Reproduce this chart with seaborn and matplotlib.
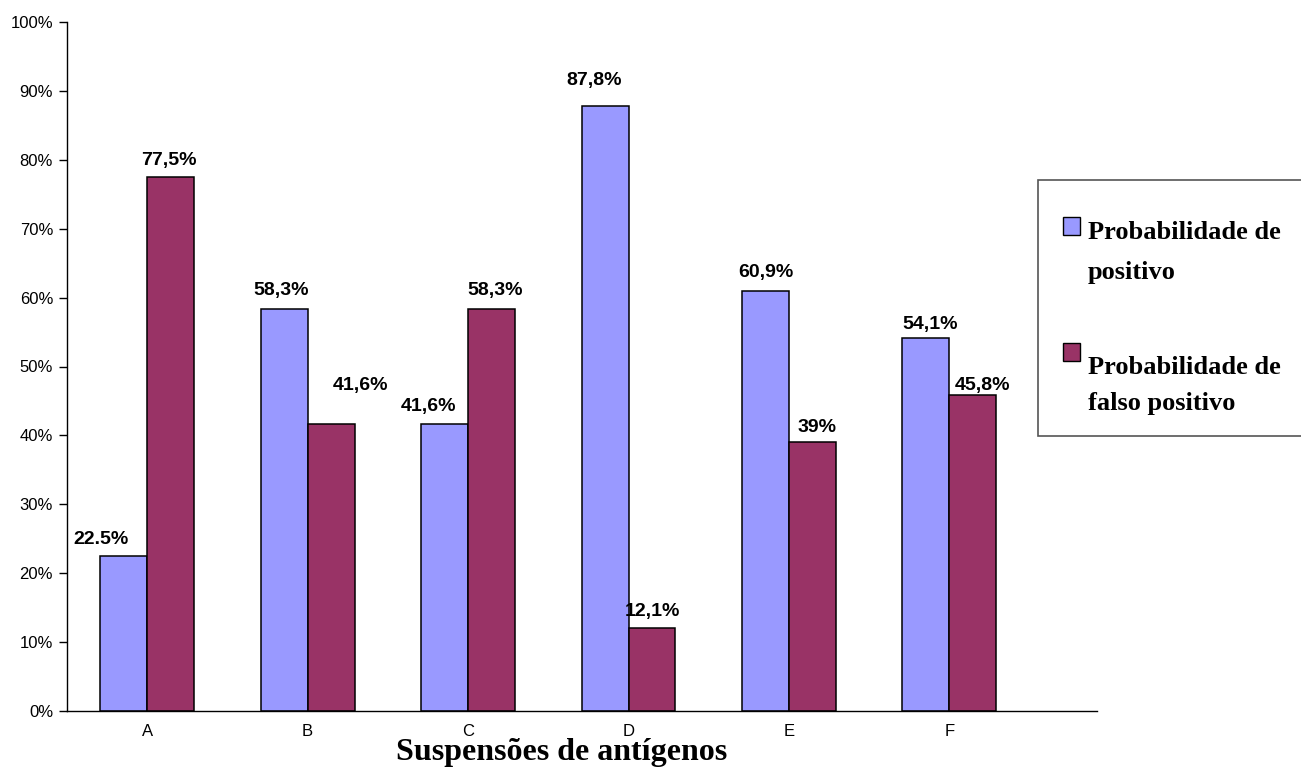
import matplotlib
matplotlib.use("Agg")
import matplotlib.pyplot as plt
from matplotlib.patches import Rectangle
import seaborn as sns
import pandas as pd

categories = ["A", "B", "C", "D", "E", "F"]
series_names = ["Probabilidade de\npositivo", "Probabilidade de\nfalso positivo"]
positivo = [22.5, 58.3, 41.6, 87.8, 60.9, 54.1]
falso_positivo = [77.5, 41.6, 58.3, 12.1, 39.0, 45.8]
labels_positivo = ["22.5%", "58,3%", "41,6%", "87,8%", "60,9%", "54,1%"]
labels_falso = ["77,5%", "41,6%", "58,3%", "12,1%", "39%", "45,8%"]
y_ticks = [0, 10, 20, 30, 40, 50, 60, 70, 80, 90, 100]
x_label = "Suspensões de antígenos"
colors = ["#9999FF", "#993366"]

# label nudges (pixels) relative to bar centre / top
nudge_pos = [(-23, 16), (-3, 19), (-16, 18), (-11, 26), (0, 19), (4, 14)]
nudge_fal = [(-2, 17), (29, 39), (4, 19), (0, 16), (5, 15), (10, 10)]

df = pd.DataFrame({
    "cat": categories * 2,
    "val": positivo + falso_positivo,
    "serie": [series_names[0]] * 6 + [series_names[1]] * 6,
})

sns.set_style("white")
plt.rcParams.update({"text.color": "black", "xtick.color": "black",
                     "ytick.color": "black", "axes.labelcolor": "black"})
W, H = 1301, 776
fig = plt.figure(figsize=(W / 100, H / 100), dpi=100)
ax = fig.add_axes([67 / W, 1 - 711 / H, (1097 - 67) / W, (711 - 22) / H])

sns.barplot(data=df, x="cat", y="val", hue="serie", order=categories,
            hue_order=series_names, palette=colors, width=0.585,
            edgecolor="black", linewidth=1.1, saturation=1, ax=ax, legend=False)

ax.set_xlim(-0.5, 5.92)
ax.set_ylim(0, 100)
ax.set_yticks(y_ticks)
ax.set_yticklabels([f"{t}%" for t in y_ticks])
ax.set_xlabel("")
ax.set_ylabel("")
for s in ["top", "right"]:
    ax.spines[s].set_visible(False)
for s in ["left", "bottom"]:
    ax.spines[s].set_color("black")
    ax.spines[s].set_linewidth(1.0)
ax.tick_params(axis="y", direction="out", length=6, width=1, color="black",
               labelcolor="black", labelsize=12, pad=4, left=True)
ax.tick_params(axis="x", length=0, labelsize=12, pad=9, labelcolor="black")
for t in ax.get_xticklabels() + ax.get_yticklabels():
    t.set_fontfamily(["Liberation Sans"])

label_font = dict(family=["Liberation Sans"], weight="bold", size=14, color="black")
containers = ax.containers
for cont, labs, nudges in [(containers[0], labels_positivo, nudge_pos),
                           (containers[1], labels_falso, nudge_fal)]:
    for bar, lab, (dx, dy) in zip(cont, labs, nudges):
        xc = bar.get_x() + bar.get_width() / 2
        yt = bar.get_height()
        ax.annotate(lab, (xc, yt), xytext=(dx, dy), textcoords="offset pixels",
                    ha="center", va="center", **label_font)

fig.text(562 / W, 1 - 760 / H, x_label, ha="center", va="baseline",
         family=["Liberation Serif"], weight="bold", size=23, color="black")

# legend box
fig.patches.append(Rectangle((1038 / W, 1 - 436 / H), 0.3, (436 - 180) / H,
                             transform=fig.transFigure, facecolor="white",
                             edgecolor="#555555", linewidth=1.2, zorder=0))
square_tops = [217, 343]
first_baselines = [239, 374]
line_steps = [40, 36]
for name, col, sq, bl, step in zip(series_names, colors, square_tops,
                                   first_baselines, line_steps):
    fig.patches.append(Rectangle((1063 / W, 1 - (sq + 18) / H), 17 / W, 18 / H,
                                 transform=fig.transFigure, facecolor=col,
                                 edgecolor="black", linewidth=1.0, zorder=2))
    for i, line in enumerate(name.split("\n")):
        fig.text(1088 / W, 1 - (bl + i * step) / H, line, ha="left",
                 va="baseline", family=["Liberation Serif"], weight="bold",
                 size=19, color="black")

fig.savefig("out.png", dpi=100)
